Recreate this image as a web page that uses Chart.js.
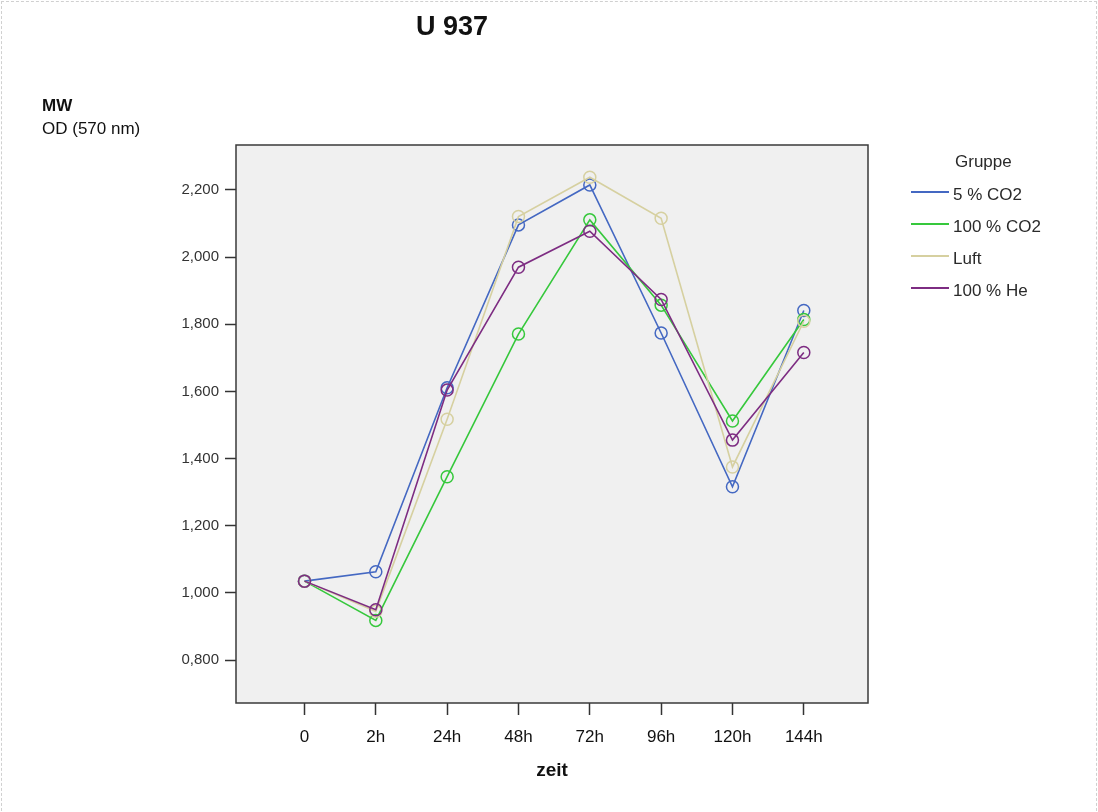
<!DOCTYPE html>
<html>
<head>
<meta charset="utf-8">
<script src="https://cdn.jsdelivr.net/npm/chart.js@4.4.0/dist/chart.umd.min.js"></script>
<style>
  html, body { margin: 0; padding: 0; background: #fff; }
  #wrap { position: relative; width: 1098px; height: 812px; font-family: "Liberation Sans", Arial, sans-serif; }
  #frame { position: absolute; left: 1px; top: 1px; width: 1096px; height: 820px; border: 1px dashed #d0d0d0; box-sizing: border-box; }
  canvas { position: absolute; left: 0; top: 0; }
  .txt { position: absolute; color: #111; white-space: nowrap; }
  #title { left: 452px; top: 11px; transform: translateX(-50%); font-size: 27px; font-weight: bold; }
  #mw { left: 42px; top: 96px; font-size: 17px; font-weight: bold; }
  #od { left: 42px; top: 119px; font-size: 17px; }
  #legend { position: absolute; left: 911px; top: 150px; font-size: 17px; color: #2a2a2a; }
  #legend .head { margin-left: 44px; height: 29px; line-height: 24px; }
  #legend .item { height: 32px; line-height: 24px; display: flex; align-items: center; }
  #legend .sw { width: 38px; height: 2px; margin-right: 4px; margin-top: -6px; }
</style>
</head>
<body>
<div id="wrap">
  <div id="frame"></div>
  <canvas id="myChart" width="1098" height="812"></canvas>
  <div class="txt" id="title">U 937</div>
  <div class="txt" id="mw">MW</div>
  <div class="txt" id="od">OD (570 nm)</div>
  <div id="legend"></div>
</div>
<script>
// categories and series
var zeitLabels = ['0', '2h', '24h', '48h', '72h', '96h', '120h', '144h'];
var groupNames = ['5 % CO2', '100 % CO2', 'Luft', '100 % He'];
var co2_5   = [1.035, 1.063, 1.611, 2.096, 2.215, 1.774, 1.316, 1.841];
var co2_100 = [1.035, 0.918, 1.346, 1.771, 2.111, 1.857, 1.512, 1.814];
var luft    = [1.035, 0.945, 1.517, 2.121, 2.238, 2.116, 1.375, 1.809];
var he_100  = [1.035, 0.950, 1.604, 1.970, 2.077, 1.874, 1.455, 1.716];
var yTicks = [0.8, 1.0, 1.2, 1.4, 1.6, 1.8, 2.0, 2.2];

var colors = ['#4468C2', '#36C83C', '#D6D0A0', '#7D2C82'];
var series = [co2_5, co2_100, luft, he_100];

var datasets = series.map(function(vals, k) {
  return {
    label: groupNames[k],
    data: vals.map(function(v, i) { return {x: i, y: v}; }),
    borderColor: colors[k],
    backgroundColor: 'rgba(0,0,0,0)',
    borderWidth: 1.6,
    pointRadius: 6,
    pointBorderWidth: 1.5,
    pointHoverRadius: 6,
    tension: 0,
    order: series.length - k   // later groups drawn on top, like spss
  };
});

// html legend
var legend = document.getElementById('legend');
legend.innerHTML = '<div class="head">Gruppe</div>';
groupNames.forEach(function(n, k) {
  legend.innerHTML += '<div class="item"><span class="sw" style="background:' + colors[k] + '"></span>' + n + '</div>';
});

var plotBg = {
  id: 'plotBg',
  beforeDraw: function(chart) {
    var a = chart.chartArea, c = chart.ctx;
    c.save();
    c.fillStyle = '#f0f0f0';
    c.fillRect(a.left, a.top, a.right - a.left, a.bottom - a.top);
    c.restore();
  },
  afterDraw: function(chart) {
    var a = chart.chartArea, c = chart.ctx;
    c.save();
    c.strokeStyle = '#3a3a3a';
    c.lineWidth = 1.5;
    c.strokeRect(a.left, a.top, a.right - a.left, a.bottom - a.top);
    c.restore();
  }
};

var ctx = document.getElementById('myChart').getContext('2d');
var chart = new Chart(ctx, {
  type: 'line',
  data: { datasets: datasets },
  options: {
    responsive: false,
    animation: false,
    layout: { padding: { left: 0, top: 145, right: 230, bottom: 30 } },
    plugins: {
      legend: { display: false },
      title: { display: false },
      tooltip: { enabled: false }
    },
    scales: {
      x: {
        type: 'linear',
        min: -0.96,
        max: 7.9,
        afterBuildTicks: function(scale) {
          scale.ticks = zeitLabels.map(function(_, i) { return {value: i}; });
        },
        afterFit: function(scale) { scale.height = 79; },
        grid: { display: true, drawOnChartArea: false, tickLength: 12, color: '#333', tickWidth: 1.5 },
        border: { display: false },
        ticks: {
          color: '#111',
          font: { family: 'Liberation Sans', size: 17 },
          padding: 12,
          maxRotation: 0,
          callback: function(v) { return zeitLabels[v]; }
        },
        title: {
          display: true,
          text: 'zeit',
          color: '#111',
          font: { family: 'Liberation Sans', size: 19, weight: 'bold' },
          padding: { top: 4, bottom: 0 }
        }
      },
      y: {
        min: 0.672,
        max: 2.334,
        afterBuildTicks: function(scale) {
          scale.ticks = yTicks.map(function(v) { return {value: v}; });
        },
        afterFit: function(scale) { scale.width = 236; },
        grid: { display: true, drawOnChartArea: false, tickLength: 11, color: '#333', tickWidth: 1.5 },
        border: { display: false },
        ticks: {
          color: '#333',
          font: { family: 'Liberation Sans', size: 15 },
          padding: 6,
          callback: function(v) { return v.toFixed(3).replace('.', ','); }
        }
      }
    }
  },
  plugins: [plotBg]
});
</script>
</body>
</html>
